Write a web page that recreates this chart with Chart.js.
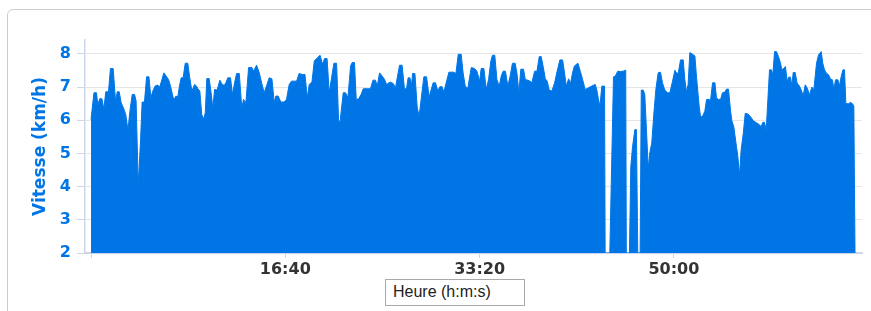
<!DOCTYPE html>
<html>
<head>
<meta charset="utf-8">
<script src="https://cdn.jsdelivr.net/npm/chart.js@4"></script>
<style>
  body { margin: 0; background: #fff; }
  #wrap { position: relative; width: 871px; height: 311px; overflow: hidden; }
  .card { position: absolute; left: 7px; top: 9px; width: 900px; height: 400px; border: 1.5px solid #ccc; border-radius: 6px; box-sizing: border-box; }
  #chart-box { position: absolute; left: 0; top: 0; width: 871px; height: 311px; }
  .x-title { position: absolute; left: 385px; top: 279px; width: 140px; height: 27px; box-sizing: border-box; border: 1.5px solid #aaa; font: 16px "Liberation Sans", Arial, sans-serif; color: #222; padding-left: 7px; line-height: 24px; background: #fff; }
</style>
</head>
<body>
<div id="wrap">
  <div class="card"></div>
  <div id="chart-box"><canvas id="speedChart"></canvas></div>
  <div class="x-title">Heure (h:m:s)</div>
</div>
<script>
// elapsed time (s)
const times = [
  0,15,28,35,45,56,66,76,90,100,114,126,135,145,155,167,179,190,200,212,224,232,243,255,263,275,286,298,308,318,
  330,341,354,365,375,387,399,409,419,426,437,447,455,464,474,485,498,507,519,533,543,550,560,570,579,588,596,608,618,627,
  636,649,663,673,685,694,704,718,728,739,749,763,776,785,797,811,828,836,852,866,878,891,903,917,931,943,951,963,977,994,
  1006,1020,1032,1058,1071,1089,1101,1113,1123,1137,1149,1166,1179,1191,1202,1215,1226,1238,1250,1264,1274,1281,
  1298,1310,1322,1336,1344,1356,1365,1378,1390,1401,1438,1451,1464,1473,1485,1499,1511,1521,1533,1541,
  1555,1567,1576,1588,1601,1613,1624,1632,1641,1650,1655,1667,1679,1689,1699,1713,1727,1740,1751,1761,
  1773,1785,1795,1807,1816,1830,1842,1867,1878,1890,1905,1915,1926,1939,
  1957,1974,1986,2000,2008,2022,2034,2046,2058,2066,2078,2089,2101,2111,2121,2133,2145,2157,2169,2183,
  2193,2202,2212,2226,2235,2247,2260,2269,2283,2295,2307,2317,2328,2338,2348,2358,2372,2386,2399,2413,
  2427,2437,2446,2458,2468,2478,2488,2506,2518,2530,2543,2560,2577,2595,
  2602,2611,2619,2629,2643,2646,2670,2689,2698,2711,2725,2739,2752,2755,2771,2778,2787,2799,2807,2814,
  2826,2832,2842,2850,2868,2876,2886,2897,2907,2919,2931,2941,2953,2967,2979,2993,3005,3013,3022,3034,
  3048,3056,3065,3073,3082,3096,3108,3116,3130,3137,3147,3159,3168,3182,3188,3199,3211,3219,3228,3240,3250,3262,
  3271,3281,3291,3298,3308,3322,3329,3338,3346,3357,3367,3381,3394,3408,3423,3435,3449,3458,3466,3475,
  3492,3502,3509,3518,3528,3538,3549,3555,3566,3574,3583,3590,3600,3607,3614,3624,3634,3645,3655,3665,
  3676,3686,3698,3710,3720,3734,3744,3758,3766,3775,3785,3796,3806,3816,3823,3832,3844,3852,3861,3870,
  3878,3885,3899,3909,3919,3926,3932
];

// speed (km/h)
const speeds = [
  6.02,6.83,6.83,6.47,6.65,6.65,6.34,6.86,6.86,7.56,7.56,6.58,6.86,6.86,6.53,6.37,6.17,5.70,6.27,6.78,6.78,6.58,4.05,5.41,6.55,6.55,7.31,7.31,6.68,6.88,
  7.03,7.06,7.01,7.23,7.43,7.33,7.23,7.03,6.78,6.61,6.73,6.71,7.03,7.28,7.28,7.72,7.72,7.33,6.88,7.08,7.03,6.95,6.88,6.17,6.04,6.22,7.26,7.26,6.83,6.37,
  6.93,6.91,7.21,7.10,7.05,7.13,7.28,7.28,6.78,7.13,7.41,7.41,6.37,6.63,6.53,7.59,7.59,7.48,7.66,7.43,7.13,6.83,7.03,7.28,7.25,6.53,6.73,6.73,6.55,6.55,
  6.63,7.08,7.18,7.18,7.41,7.38,7.38,6.68,7.08,7.15,7.79,7.89,7.96,7.69,7.86,7.86,6.83,7.28,7.72,7.72,6.02,5.92,
  6.83,6.83,6.68,7.64,7.74,7.74,6.63,6.65,6.78,6.95,6.95,7.21,7.21,7.03,7.43,7.33,7.23,7.08,7.13,7.15,
  7.11,6.98,7.28,7.66,7.66,6.95,6.95,7.28,7.28,7.08,7.41,7.41,6.37,6.14,6.63,7.31,7.31,6.71,6.93,7.13,
  7.13,6.88,7.01,7.01,6.85,7.18,7.45,7.45,7.41,7.99,7.99,7.43,7.03,6.96,
  7.59,7.56,7.48,7.18,7.56,7.56,6.93,7.23,7.79,7.96,7.96,7.23,7.03,7.33,7.48,7.48,7.03,7.33,7.72,7.72,
  7.38,6.83,7.54,7.54,7.23,7.21,7.18,7.13,7.48,7.48,7.92,7.92,7.59,7.25,7.18,6.91,6.88,7.13,7.48,7.82,
  7.82,7.43,7.03,7.25,7.11,7.43,7.64,7.72,7.48,7.23,6.93,6.98,7.03,7.08,
  6.95,6.65,6.42,7.03,7.03,2.0,2.0,7.31,7.33,7.48,7.47,7.48,7.51,2.0,2.0,4.6,5.2,5.72,5.72,2.0,
  2.0,6.91,6.91,6.78,4.56,5.02,5.32,6.22,6.93,7.43,7.45,7.13,6.91,6.83,6.83,7.18,7.51,7.43,7.41,7.82,
  7.82,7.23,6.85,7.08,8.04,7.99,7.94,7.33,6.42,6.10,6.12,6.27,6.63,6.63,6.58,7.13,7.13,6.68,6.63,6.63,6.83,6.85,
  6.94,6.94,6.31,5.99,5.81,5.21,4.91,4.36,5.11,5.61,6.21,6.19,6.11,5.99,5.93,5.89,5.81,5.94,5.94,5.71,
  7.52,7.52,7.37,8.07,8.07,7.92,7.72,7.52,7.57,7.62,7.17,7.30,7.30,7.04,7.44,7.44,7.12,7.04,6.92,6.74,
  7.07,6.97,6.77,7.00,6.92,7.72,7.97,8.07,7.72,7.52,7.42,7.37,7.24,7.22,6.94,7.22,7.22,7.04,7.32,7.52,
  7.52,6.50,6.50,6.54,6.50,6.42,2.0
];

const xTickValues = [0, 1000, 2000, 3000];
const yTickValues = [2, 3, 4, 5, 6, 7, 8];

const blue = "#0076e6";
const axisLine = "#ccd6eb";

// seconds -> m:ss
function fmtTime(s) {
  const m = Math.floor(s / 60);
  const sec = Math.round(s % 60);
  return m + ":" + String(sec).padStart(2, "0");
}

const points = times.map((t, i) => ({ x: t, y: speeds[i] }));

new Chart(document.getElementById("speedChart").getContext("2d"), {
  type: "line",
  data: {
    datasets: [
      {
        label: "Vitesse",
        data: points,
        borderColor: blue,
        backgroundColor: blue,
        borderWidth: 1,
        pointRadius: 0,
        tension: 0,
        fill: "start",
      },
    ],
  },
  options: {
    responsive: true,
    maintainAspectRatio: false,
    animation: false,
    layout: { padding: { left: 0, right: 9, top: 40, bottom: 0 } },
    plugins: {
      legend: { display: false },
      tooltip: { enabled: false },
    },
    scales: {
      x: {
        type: "linear",
        min: -31,
        max: 3968,
        afterBuildTicks: (scale) => {
          scale.ticks = xTickValues.map((v) => ({ value: v }));
        },
        afterFit: (scale) => {
          scale.height = 58;
        },
        ticks: {
          autoSkip: false,
          maxRotation: 0,
          padding: 2,
          color: "#333",
          font: { family: "DejaVu Sans", size: 16, weight: "bold" },
          callback: (v) => (v === 0 ? "" : fmtTime(v)),
        },
        grid: { drawOnChartArea: false, tickLength: 5, tickColor: axisLine, tickWidth: 1 },
        border: { color: axisLine, width: 2 },
      },
      y: {
        min: 2,
        max: 8.42,
        afterBuildTicks: (scale) => {
          scale.ticks = yTickValues.map((v) => ({ value: v }));
        },
        afterFit: (scale) => {
          scale.width = 85;
        },
        ticks: {
          padding: 6,
          color: blue,
          font: { family: "DejaVu Sans", size: 16, weight: "bold" },
        },
        grid: { color: "#e6e6e6", tickLength: 8, tickColor: axisLine },
        border: { color: axisLine, width: 1.5 },
        title: {
          display: true,
          text: "Vitesse (km/h)",
          color: blue,
          font: { family: "DejaVu Sans", size: 17, weight: "bold" },
          padding: { top: 30, bottom: 0 },
        },
      },
    },
  },
});
</script>
</body>
</html>
